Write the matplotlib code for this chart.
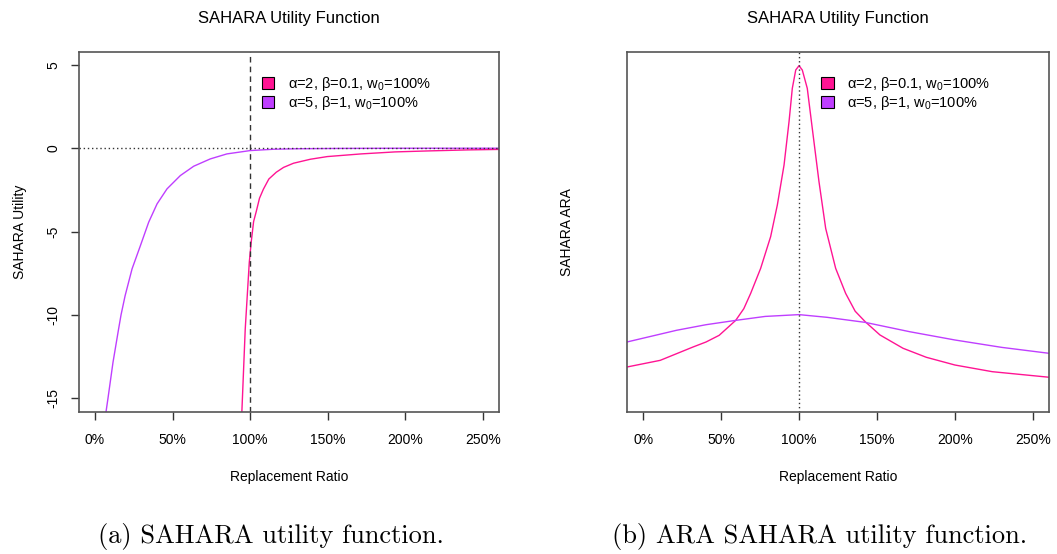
import numpy as np
import matplotlib
matplotlib.use("Agg")
import matplotlib.pyplot as plt
from matplotlib.patches import Patch

plt.rcParams['font.family'] = ['Liberation Sans', 'DejaVu Sans']
plt.rcParams['mathtext.fontset'] = 'custom'
plt.rcParams['mathtext.rm'] = 'Liberation Sans'
plt.rcParams['mathtext.it'] = 'Liberation Sans:italic'
plt.rcParams['axes.unicode_minus'] = False

# utility curves (replacement ratio in %, utility)
util_x_a = [94.6, 96.8, 99.4, 100.7, 102.2, 103.9, 106.0, 108.5, 112.0, 116.8, 121.5,
            127.9, 138.8, 149.7, 171.5, 193.3, 215.0, 240.0, 260.5]
util_y_a = [-15.9, -10.86, -6.86, -5.6, -4.4, -3.8, -3.0, -2.46, -1.85, -1.44, -1.15,
            -0.9, -0.66, -0.5, -0.34, -0.22, -0.16, -0.1, -0.07]
util_x_b = [7.0, 8.4, 11.6, 15.2, 16.8, 19.4, 23.9, 29.3, 34.6, 40.0, 46.4, 55.0, 63.6,
            74.3, 85.0, 100.0, 115.0, 130.0, 160.0, 200.0, 260.5]
util_y_b = [-15.9, -15.0, -12.86, -10.86, -10.0, -8.86, -7.24, -5.84, -4.44, -3.34, -2.44,
            -1.64, -1.08, -0.64, -0.34, -0.14, -0.06, -0.03, -0.01, 0.0, 0.0]

# ARA curves (no y scale shown)
ara_x_a = [-10.3, 11, 32, 40.4, 48.8, 59.4, 64.6, 69.0, 75.4, 81.8, 86.1, 90.4, 93.6,
           95.7, 97.9, 100, 102.1, 105.3, 108.5, 112.8, 117.1, 123.5, 129.9, 136.0,
           142.4, 151.9, 166.7, 181.6, 200, 223.9, 260.4]
ara_y_a = [2.5, 2.87, 3.61, 3.89, 4.26, 5.09, 5.74, 6.59, 7.98, 9.74, 11.5, 13.72, 16.13,
           17.98, 19.0, 19.24, 19.0, 17.98, 15.76, 12.8, 10.2, 7.98, 6.59, 5.6,
           5.02, 4.28, 3.54, 3.04, 2.61, 2.24, 1.93]
ara_x_b = [-10.3, 21.5, 40.4, 59.4, 78.3, 100, 118, 142.4, 171, 200, 230, 260.4]
ara_y_b = [3.89, 4.54, 4.85, 5.09, 5.31, 5.41, 5.26, 4.98, 4.46, 4.0, 3.59, 3.26]

xticks = [0, 50, 100, 150, 200, 250]
xticklabels = ["0%", "50%", "100%", "150%", "200%", "250%"]
util_yticks = [5, 0, -5, -10, -15]
labels = [r"α=2, β=0.1, w$_0$=100%", r"α=5, β=1, w$_0$=100%"]

pink = "#FF1493"
purple = "#BF3EFF"
frame = "#555555"

fig = plt.figure(figsize=(10.57, 5.54), dpi=100)
ax1 = fig.add_axes([79/1057, 142/554, 420/1057, 360/554])
ax2 = fig.add_axes([627/1057, 142/554, 422/1057, 360/554])


def style(ax):
    ax.set_xlim(-10.3, 260.3)
    ax.set_xticks(xticks)
    ax.set_xticklabels(xticklabels)
    for s in ax.spines.values():
        s.set_color(frame)
        s.set_linewidth(1.2)
    ax.tick_params(colors="#333333", labelcolor="black", labelsize=10, length=6, width=1,
                   pad=9)
    ax.tick_params(axis="y", pad=7.5)
    ax.set_title("SAHARA Utility Function", fontsize=12, pad=21)
    ax.set_xlabel("Replacement Ratio", fontsize=10, labelpad=17)
    handles = [Patch(facecolor=pink, edgecolor="black", linewidth=0.8),
               Patch(facecolor=purple, edgecolor="black", linewidth=0.8)]
    return handles


def add_legend(ax, handles, x):
    ax.legend(handles, labels, loc="upper left", bbox_to_anchor=(x, 0.936), frameon=False,
              fontsize=10.5, handlelength=0.85, handleheight=0.85, handletextpad=0.95,
              labelspacing=0.05, borderpad=0, borderaxespad=0)


h = style(ax1)
ax1.plot(util_x_b, util_y_b, color=purple, lw=1)
ax1.plot(util_x_a, util_y_a, color=pink, lw=1)
ax1.axvline(100, color="#333333", ls=(0, (4, 3)), lw=1)
ax1.axhline(0, color="#333333", ls=(0, (1, 2)), lw=1)
ax1.set_ylim(-15.84, 5.78)
ax1.set_yticks(util_yticks)
ax1.set_yticklabels([str(v) for v in util_yticks], rotation=90, va="center")
ax1.set_ylabel("SAHARA Utility", fontsize=10)
ax1.yaxis.set_label_coords(-0.125, 0.5)
add_legend(ax1, h, 0.435)

h = style(ax2)
ax2.plot(ara_x_a, ara_y_a, color=pink, lw=1)
ax2.plot(ara_x_b, ara_y_b, color=purple, lw=1)
ax2.axvline(100, color="#333333", ls=(0, (1, 2)), lw=1)
ax2.set_ylim(0, 20)
ax2.set_yticks([])
ax2.set_ylabel("SAHARA ARA", fontsize=10)
ax2.yaxis.set_label_coords(-0.126, 0.5)
add_legend(ax2, h, 0.46)

fig.text(271/1057, 1 - 537/554, "(a) SAHARA utility function.", family="cmr10",
         fontsize=19, ha="center", va="center")
fig.text(820/1057, 1 - 537/554, "(b) ARA SAHARA utility function.", family="cmr10",
         fontsize=19, ha="center", va="center")

fig.savefig("out.png", dpi=100)
